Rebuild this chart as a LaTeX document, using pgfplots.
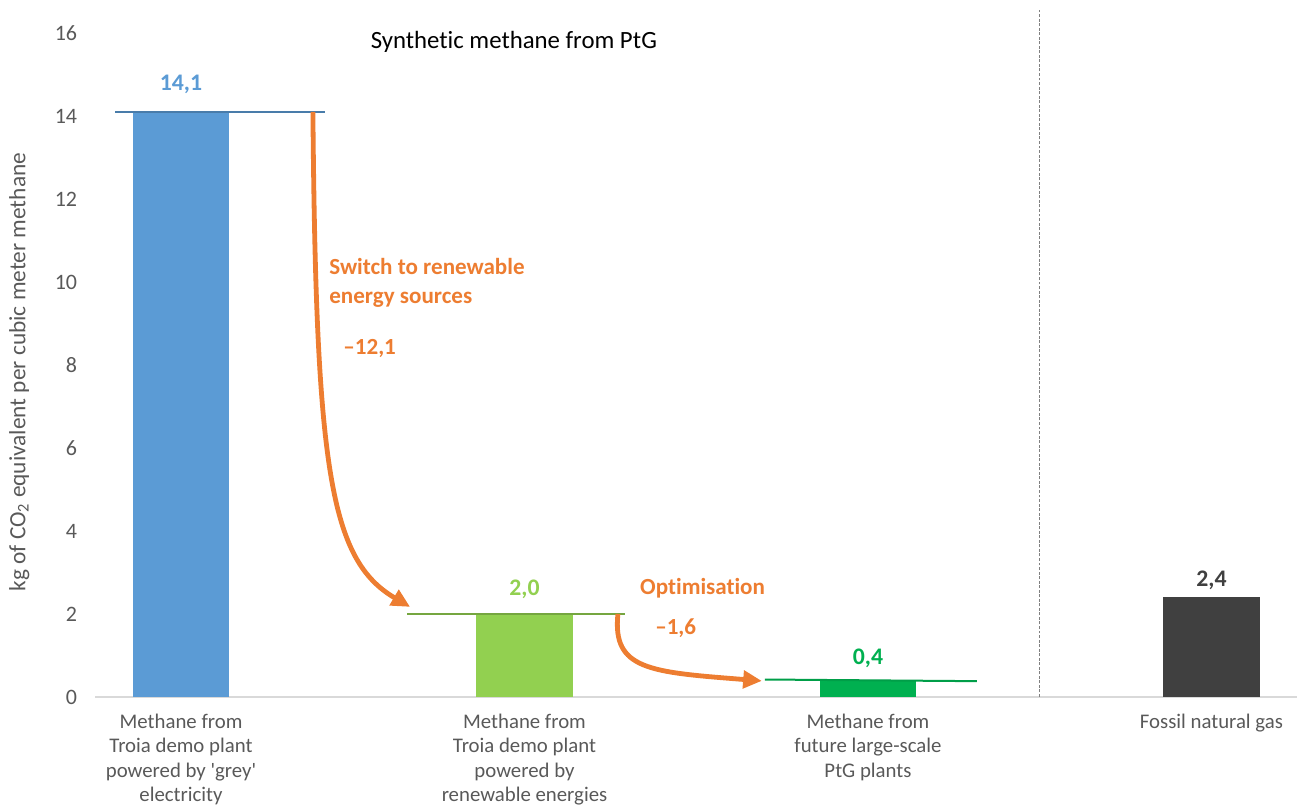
\documentclass[border=0pt]{standalone}
\usepackage{fontspec}
\setmainfont{Carlito}[Ligatures={NoCommon}]
\usepackage{pgfplots}
\pgfplotsset{compat=1.18}
\usetikzlibrary{arrows.meta}

\definecolor{cblue}{HTML}{5B9BD5}
\definecolor{clgreen}{HTML}{92D050}
\definecolor{cgreen}{HTML}{00B050}
\definecolor{cdark}{HTML}{404040}
\definecolor{corange}{HTML}{ED7D31}
\definecolor{ctick}{HTML}{595959}
\definecolor{caxis}{HTML}{D9D9D9}

\begin{document}
\begin{tikzpicture}
\begin{axis}[
    scale only axis,
    width=901.7pt, height=522.75pt,
    xmin=-0.25, xmax=3.25,
    ymin=0, ymax=16.795,
    clip=false,
    axis x line*=bottom,
    axis y line*=left,
    x axis line style={draw=caxis, line width=1.2pt},
    y axis line style={draw=none},
    xtick={0,1,2,3},
    xticklabels={
      {Methane from\\Troia demo plant\\powered by \textquotesingle grey\textquotesingle\\electricity},
      {Methane from\\Troia demo plant\\powered by\\renewable energies},
      {Methane from\\future large-scale\\PtG plants},
      {Fossil natural gas}},
    ytick={0,2,...,16},
    major tick length=0pt,
    tick style={draw=none},
    xticklabel style={align=center, font=\fontsize{15.6pt}{18.4pt}\selectfont,
      text=ctick, anchor=north, yshift=-9pt},
    yticklabel style={font=\fontsize{16.5pt}{18pt}\selectfont, text=ctick, xshift=-10pt},
    /pgf/number format/assume math mode=true,
    ylabel={kg of CO\textsubscript{2} equivalent per cubic meter methane},
    every axis y label/.style={at={(axis description cs:-0.0632,0.466)},
      rotate=90, anchor=center, font=\fontsize{17.5pt}{20pt}\selectfont, text=ctick},
  ]
  % bars
  \addplot[ybar, bar shift=0pt, bar width=0.28, fill=cblue, draw=none]
    coordinates {(0,14.1)};
  \addplot[ybar, bar shift=0pt, bar width=0.28, fill=clgreen, draw=none]
    coordinates {(1,2.0)};
  \addplot[ybar, bar shift=0pt, bar width=0.28, fill=cgreen, draw=none]
    coordinates {(2,0.4)};
  \addplot[ybar, bar shift=0pt, bar width=0.28, fill=cdark, draw=none]
    coordinates {(3,2.4)};

  % level lines
  \addplot[draw=cblue!80!black, line width=1.5pt] coordinates {(-0.192,14.1) (0.419,14.1)};
  \addplot[draw=clgreen!80!black, line width=1.5pt] coordinates {(0.658,2.0) (1.293,2.0)};
  \addplot[draw=cgreen!90!black, line width=1.5pt] coordinates {(1.70,0.42) (2.317,0.38)};

  % separator
  \addplot[draw=gray, line width=1.1pt, dash pattern=on 2.2pt off 1.2pt]
    coordinates {(2.5,0) (2.5,16.6)};

  % arrows
  \draw[corange, line width=3.6pt, -{Triangle[length=14pt,width=13pt]}]
    (axis cs:0.384,14.10) .. controls (axis cs:0.393,5.47) and (axis cs:0.434,3.30)
    .. (axis cs:0.667,2.17);
  \draw[corange, line width=3.6pt, -{Triangle[length=14pt,width=13pt]}]
    (axis cs:1.272,2.00) .. controls (axis cs:1.255,0.65) and (axis cs:1.365,0.60)
    .. (axis cs:1.691,0.386);

  % value labels
  \node[font=\fontsize{17.8pt}{20pt}\selectfont\bfseries, text=cblue] at (axis cs:0,14.75) {14,1};
  \node[font=\fontsize{17.8pt}{20pt}\selectfont\bfseries, text=clgreen] at (axis cs:1,2.60) {2,0};
  \node[font=\fontsize{17.8pt}{20pt}\selectfont\bfseries, text=cgreen] at (axis cs:2,0.92) {0,4};
  \node[font=\fontsize{17.8pt}{20pt}\selectfont\bfseries, text=cdark] at (axis cs:3,2.82) {2,4};

  % annotations
  \node[font=\fontsize{18.6pt}{20pt}\selectfont] at (axis cs:0.969,15.78) {Synthetic methane from PtG};
  \node[font=\fontsize{17.3pt}{21.75pt}\selectfont\bfseries, text=corange, align=left,
    anchor=west, inner sep=0pt] at (axis cs:0.431,9.99) {Switch to renewable\\energy sources};
  \node[font=\fontsize{17.3pt}{20pt}\selectfont\bfseries, text=corange, anchor=west,
    inner sep=0pt] at (axis cs:0.472,8.39) {–12,1};
  \node[font=\fontsize{17.3pt}{20pt}\selectfont\bfseries, text=corange, anchor=west,
    inner sep=0pt] at (axis cs:1.336,2.63) {Optimisation};
  \node[font=\fontsize{17.3pt}{20pt}\selectfont\bfseries, text=corange, anchor=west,
    inner sep=0pt] at (axis cs:1.380,1.66) {–1,6};

  \coordinate (bbA) at (axis cs:-0.527,-2.771);
  \coordinate (bbB) at (axis cs:3.252,16.795);
\end{axis}
\pgfresetboundingbox
\path[use as bounding box] (bbA) rectangle (bbB);
\end{tikzpicture}
\end{document}
